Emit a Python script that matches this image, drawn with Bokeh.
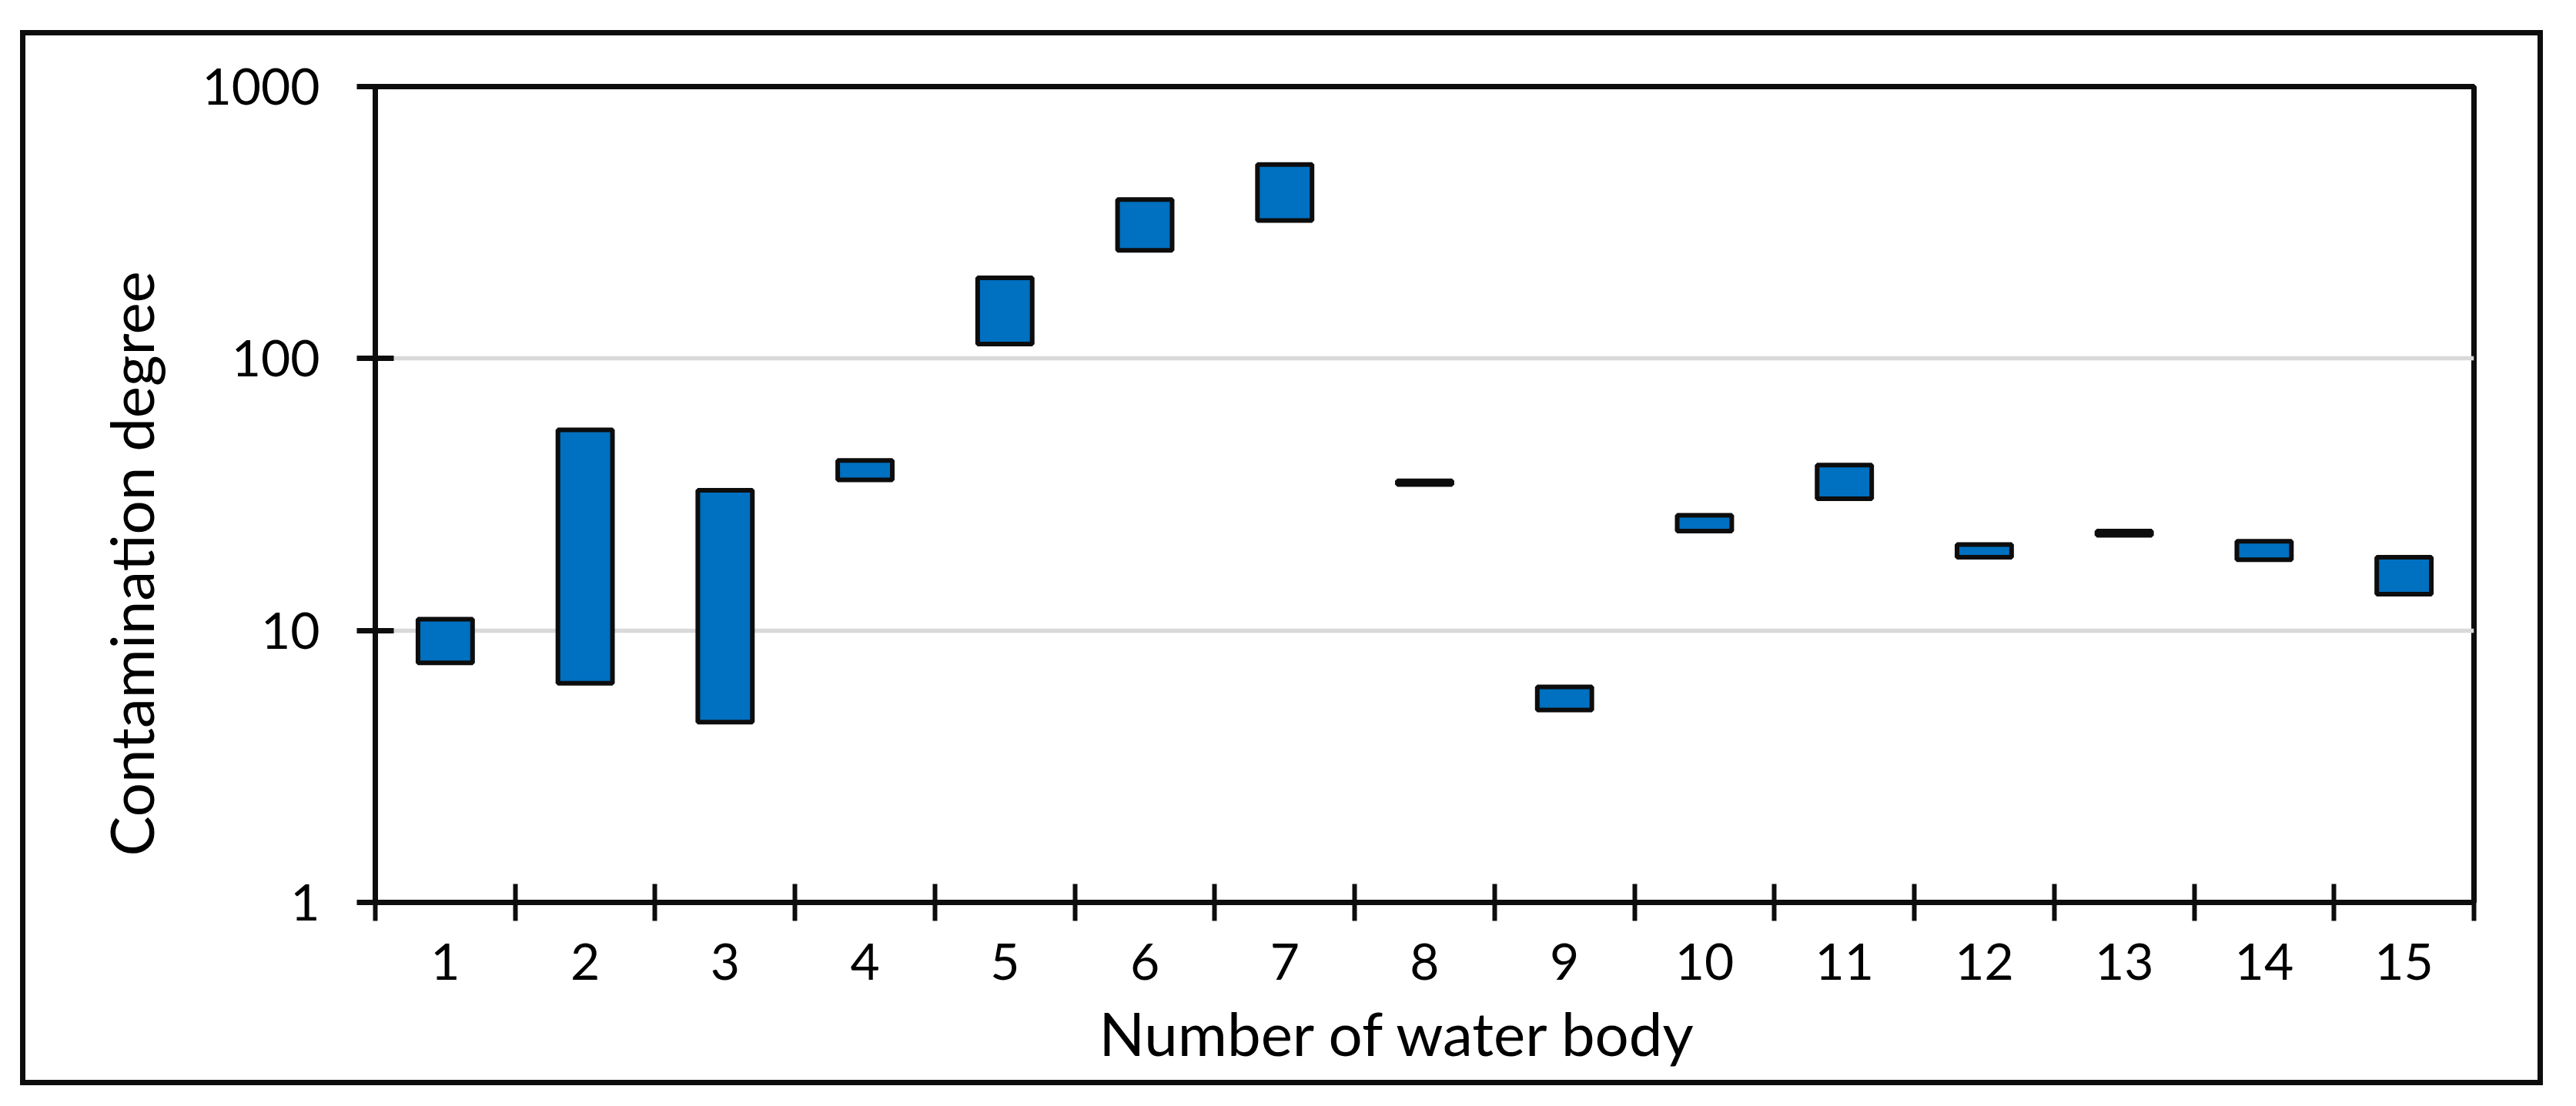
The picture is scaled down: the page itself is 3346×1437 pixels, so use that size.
from bokeh.plotting import figure
from bokeh.models import FixedTicker, Range1d, Title, PrintfTickFormatter, ColumnDataSource
from bokeh.embed import file_html
from bokeh.resources import INLINE

# ---- data ----
water_body = [1, 2, 3, 4, 5, 6, 7, 8, 9, 10, 11, 12, 13, 14, 15]
degree_min = [7.6, 6.4, 4.6, 35.8, 113, 250, 322, 34.4, 5.1, 23.2, 30.5, 18.6, 22.4, 18.2, 13.6]
degree_max = [11.0, 54.7, 32.8, 42.2, 198, 384, 517, 35.5, 6.2, 26.5, 40.6, 20.7, 23.2, 21.3, 18.6]
y_ticks = [1, 10, 100, 1000]
x_bounds = [0.5 + i for i in range(16)]

FONT = "Lato"
W, H = 3263, 1357

p = figure(width=W, height=H, output_backend="svg", toolbar_location=None,
           x_range=Range1d(0.5, 15.5), y_range=Range1d(1, 1000), y_axis_type="log",
           min_border_left=454, min_border_right=W - 3166, min_border_top=66,
           min_border_bottom=H - 1112)
p.background_fill_color = "white"
p.border_fill_color = "white"
p.outline_line_color = "#0D0D0D"
p.outline_line_width = 7
p.styles = {"border": "7px solid #0D0D0D", "box-sizing": "content-box",
            "margin-left": "26px", "margin-top": "39px"}

src = ColumnDataSource(dict(x=water_body, lo=degree_min, hi=degree_max))
p.vbar(x="x", bottom="lo", top="hi", width=0.39, source=src,
       fill_color="#0070C0", line_color="#0D0D0D", line_width=6)

# y axis
ya = p.yaxis[0]
ya.ticker = FixedTicker(ticks=y_ticks, minor_ticks=[])
ya.formatter = PrintfTickFormatter(format="%d")
ya.axis_line_width = 7
ya.axis_line_color = "#0D0D0D"
ya.major_tick_in = 24
ya.major_tick_out = 24
ya.major_tick_line_width = 7
ya.major_tick_line_color = "#0D0D0D"
ya.minor_tick_line_color = None
ya.major_label_text_font = FONT
ya.major_label_text_font_size = "66px"
ya.major_label_text_color = "black"
ya.major_label_standoff = 48

# x axis (ticks between categories, labels at centres)
xa = p.xaxis[0]
xa.ticker = FixedTicker(ticks=water_body, minor_ticks=x_bounds)
xa.axis_line_width = 7
xa.axis_line_color = "#0D0D0D"
xa.major_tick_in = 0
xa.major_tick_out = 0
xa.minor_tick_in = 24
xa.minor_tick_out = 24
xa.minor_tick_line_width = 6
xa.minor_tick_line_color = "#0D0D0D"
xa.major_label_text_font = FONT
xa.major_label_text_font_size = "66px"
xa.major_label_text_color = "black"
xa.major_label_standoff = 29

p.xgrid.grid_line_color = None
p.ygrid.ticker = FixedTicker(ticks=y_ticks, minor_ticks=[])
p.ygrid.grid_line_color = "#D9D9D9"
p.ygrid.grid_line_width = 5.5

# axis titles
p.add_layout(Title(text="Contamination degree", align="left", offset=60,
                   vertical_align="bottom", standoff=86,
                   text_font=FONT, text_font_size="78px", text_font_style="normal",
                   text_color="black"), "left")
p.add_layout(Title(text="Number of water body", align="left", offset=940,
                   vertical_align="top", standoff=39,
                   text_font=FONT, text_font_size="78px", text_font_style="normal",
                   text_color="black"), "below")

open("out.html", "w").write(file_html(p, INLINE))
